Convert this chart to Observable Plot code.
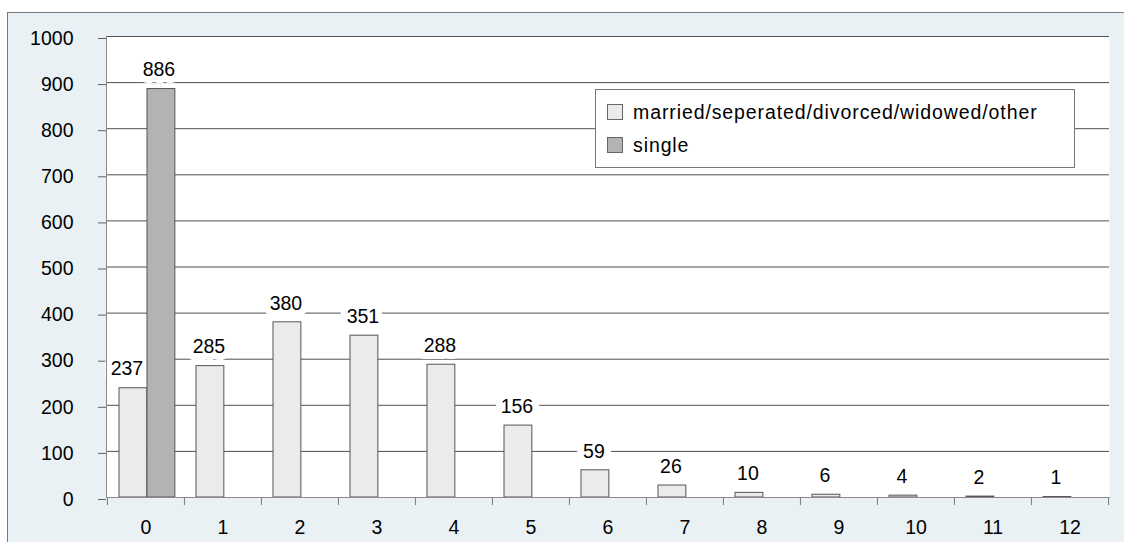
<!DOCTYPE html>
<html>
<head>
<meta charset="utf-8">
<script src="https://cdn.jsdelivr.net/npm/d3@7"></script>
<script src="https://cdn.jsdelivr.net/npm/@observablehq/plot@0.6"></script>
<style>
  html, body { margin: 0; padding: 0; background: #ffffff; overflow: hidden; }
  body { width: 1124px; height: 542px; position: relative; font-family: "Liberation Sans", Arial, sans-serif; }
  #bg { position: absolute; left: 7px; top: 12px; width: 1200px; height: 600px; background: #e9f1f5; border: 1px solid #7a7a7a; }
  #chart { position: absolute; left: 0; top: 0; }
  #legend { position: absolute; left: 595px; top: 89px; width: 480px; height: 79px; background: #ffffff; border: 1px solid #777; box-sizing: border-box; font-size: 19.5px; color: #000; }
  .row { position: absolute; left: 11px; height: 20px; display: flex; align-items: center; white-space: nowrap; letter-spacing: 0.9px; }
  .sw { width: 16px; height: 16px; border: 1px solid #666; margin-right: 10px; box-sizing: border-box; }
</style>
</head>
<body>
<div id="bg"></div>
<div id="chart"></div>
<div id="legend"></div>
<script>
const categories = ["0","1","2","3","4","5","6","7","8","9","10","11","12"];
const marriedValues = [237, 285, 380, 351, 288, 156, 59, 26, 10, 6, 4, 2, 1];
const singleCategories = ["0"];
const singleValues = [886];
const yTicks = [0, 100, 200, 300, 400, 500, 600, 700, 800, 900, 1000];
const seriesNames = ["married/seperated/divorced/widowed/other", "single"];
const seriesColors = ["#ebebeb", "#b3b3b3"];

const married = categories.map((c, i) => ({cat: c, value: marriedValues[i]}));
const single = singleCategories.map((c, i) => ({cat: c, value: singleValues[i]}));
// the first married label sits next to the single bar and is nudged left, as in the original
const marriedFirst = married.filter(d => singleCategories.includes(d.cat));
const marriedRest = married.filter(d => !singleCategories.includes(d.cat));

const W = 1124, H = 542, mL = 106, mR = 15, mT = 36, mB = 45;
const step = (W - mL - mR) / categories.length;
const font = "Liberation Sans, Arial, sans-serif";
const fs = 19.5;

const labelMarks = (data, dx, halo) => Plot.text(data, {
  x: "cat", y: "value", text: d => String(d.value), dx, dy: -19, fontSize: fs,
  lineAnchor: "middle",
  ...(halo ? {fill: "white", stroke: "white", strokeWidth: 14} : {fill: "#000"})
});

const mDx = 12 + 14 - step / 2 - 1.5;
const sDx = 40 + 14 - step / 2 - 2.5;

const plot = Plot.plot({
  width: W,
  height: H,
  marginLeft: mL,
  marginRight: mR,
  marginTop: mT,
  marginBottom: mB,
  style: {background: "transparent", fontFamily: font, fontSize: fs + "px", color: "#000", overflow: "visible"},
  x: {type: "band", domain: categories, padding: 0, label: null},
  y: {domain: [0, 1000], label: null},
  marks: [
    Plot.frame({fill: "white", stroke: "none"}),
    Plot.ruleY(yTicks.filter(d => d > 0), {stroke: "#4f4f4f", strokeWidth: 1}),
    Plot.axisY({ticks: yTicks, tickSize: 8, tickPadding: 25, stroke: "#5f5f5f", fontSize: fs, dy: 2, tickFormat: d => String(d), label: null}),
    Plot.axisX({tickSize: 8, tickFormat: null, dx: -step / 2, stroke: "#777", label: null}),
    Plot.axisX({ticks: [categories[categories.length - 1]], tickSize: 8, tickFormat: null, dx: step / 2, stroke: "#777", label: null}),
    Plot.axisX({tickSize: 0, tickPadding: 23, fontSize: fs, label: null}),
    labelMarks(marriedRest, mDx, true),
    labelMarks(marriedFirst, mDx - 5, true),
    labelMarks(single, sDx, true),
    Plot.barY(married, {x: "cat", y: "value", fill: seriesColors[0], stroke: "#555", strokeWidth: 1, insetLeft: 12, insetRight: step - 40}),
    Plot.barY(single, {x: "cat", y: "value", fill: seriesColors[1], stroke: "#555", strokeWidth: 1, insetLeft: 40, insetRight: step - 68}),
    labelMarks(marriedRest, mDx, false),
    labelMarks(marriedFirst, mDx - 5, false),
    labelMarks(single, sDx, false),
    Plot.frame({anchor: "left", stroke: "#8a8a8a"}),
    Plot.frame({anchor: "bottom", stroke: "#8a8a8a"})
  ]
});
document.getElementById("chart").appendChild(plot);

const legend = document.getElementById("legend");
const rowTops = [12, 45];
seriesNames.forEach((name, i) => {
  const row = document.createElement("div");
  row.className = "row";
  row.style.top = rowTops[i] + "px";
  const sw = document.createElement("div");
  sw.className = "sw";
  sw.style.background = seriesColors[i];
  const label = document.createElement("span");
  label.textContent = name;
  row.appendChild(sw);
  row.appendChild(label);
  legend.appendChild(row);
});
</script>
</body>
</html>
